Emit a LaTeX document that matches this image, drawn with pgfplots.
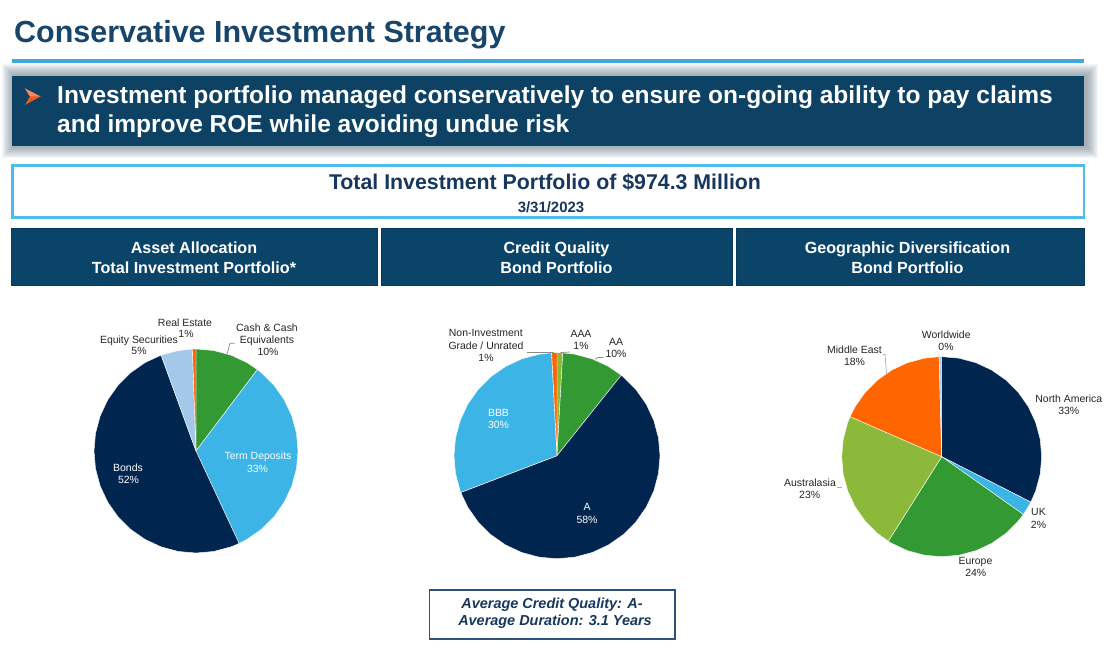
\documentclass[border=0pt]{standalone}
\usepackage{fontspec}
\setmainfont{Liberation Sans}
\usepackage{pgfplots}
\pgfplotsset{compat=1.18}
\usepgfplotslibrary{polar}

\definecolor{titleblue}{HTML}{17456B}
\definecolor{banner}{HTML}{0D4264}
\definecolor{hdr}{HTML}{0A4468}
\definecolor{rule}{HTML}{3FA9DD}
\definecolor{boxline}{HTML}{4DBCEA}
\definecolor{txtnavy}{HTML}{17375E}
\definecolor{noteline}{HTML}{2B5278}
\definecolor{shadow}{HTML}{4F6678}
\definecolor{pnavy}{HTML}{00264F}
\definecolor{pblue}{HTML}{3CB4E5}
\definecolor{pgreen}{HTML}{339933}
\definecolor{ppale}{HTML}{A4C8EA}
\definecolor{porange}{HTML}{FF6600}
\definecolor{plime}{HTML}{8DB93A}
\definecolor{lbl}{HTML}{262626}
\definecolor{lead}{HTML}{8C8C8C}
\definecolor{arrow}{HTML}{EE5A24}

% one pie = one hidden axis, 1 data unit = 1 px, centre at data (0,0)
\pgfplotsset{
  pie/.style={anchor=center, x=1bp, y=1bp, xmin=-110, xmax=110,
    ymin=-110, ymax=110, hide axis, clip=false},
  slice/.style={fill=#1, draw=white, line width=0.4bp, data cs=polar},
}
\tikzset{
  lab/.style={anchor=base, inner sep=0pt, text=lbl, font=\fontsize{10.5}{12}\selectfont},
  wlab/.style={lab, text=white},
  hd/.style={anchor=base, inner sep=0pt, text=white, font=\fontsize{16.2}{19}\selectfont\bfseries},
}

\begin{document}
\begin{tikzpicture}[x=1bp, y=1bp]
\path[use as bounding box, fill=white] (0,0) rectangle (1117,658);

% ---- Pie 1: asset allocation (clockwise from 12 o'clock)
% Cash 10%, Term Deposits 33%, Bonds 52%, Equity 5%, Real Estate 1%
\begin{axis}[pie, at={(196,207)}]
\addplot[slice=pgreen] coordinates {(0,0) (90,102) (80,102) (70,102) (60,102) (53,102)} -- cycle;
\addplot[slice=pblue] coordinates {(0,0) (53,102) (50,102) (40,102) (30,102) (20,102) (10,102)
  (0,102) (-10,102) (-20,102) (-30,102) (-40,102) (-50,102) (-60,102) (-65,102)} -- cycle;
\addplot[slice=pnavy] coordinates {(0,0) (-65,102) (-70,102) (-80,102) (-90,102) (-100,102)
  (-110,102) (-120,102) (-130,102) (-140,102) (-150,102) (-160,102) (-170,102) (-180,102)
  (-190,102) (-200,102) (-210,102) (-220,102) (-230,102) (-240,102) (-250,102)} -- cycle;
\addplot[slice=ppale] coordinates {(0,0) (-250,102) (-260,102) (-268,102)} -- cycle;
\addplot[slice=porange] coordinates {(0,0) (-268,102) (-270,102)} -- cycle;
\end{axis}

% ---- Pie 2: credit quality
% AAA 1%, AA 10%, A 58%, BBB 30%, Non-Investment Grade 1%
\begin{axis}[pie, at={(557,202.3)}]
\addplot[slice=plime] coordinates {(0,0) (90,103) (86.8,103)} -- cycle;
\addplot[slice=pgreen] coordinates {(0,0) (86.8,103) (80,103) (70,103) (60,103) (51.4,103)} -- cycle;
\addplot[slice=pnavy] coordinates {(0,0) (51.4,103) (50,103) (40,103) (30,103) (20,103) (10,103)
  (0,103) (-10,103) (-20,103) (-30,103) (-40,103) (-50,103) (-60,103) (-70,103) (-80,103)
  (-90,103) (-100,103) (-110,103) (-120,103) (-130,103) (-140,103) (-150,103) (-159.1,103)} -- cycle;
\addplot[slice=pblue] coordinates {(0,0) (-159.1,103) (-160,103) (-170,103) (-180,103) (-190,103)
  (-200,103) (-210,103) (-220,103) (-230,103) (-240,103) (-250,103) (-260,103) (-267,103)} -- cycle;
\addplot[slice=porange] coordinates {(0,0) (-267,103) (-270,103)} -- cycle;
\end{axis}

% ---- Pie 3: geographic diversification
% North America 33%, UK 2%, Europe 24%, Australasia 23%, Middle East 18%, Worldwide 0%
\begin{axis}[pie, at={(941.7,201.3)}]
\addplot[slice=pnavy] coordinates {(0,0) (90,100) (80,100) (70,100) (60,100) (50,100) (40,100)
  (30,100) (20,100) (10,100) (0,100) (-10,100) (-20,100) (-27,100)} -- cycle;
\addplot[slice=pblue] coordinates {(0,0) (-27,100) (-30,100) (-35.3,100)} -- cycle;
\addplot[slice=pgreen] coordinates {(0,0) (-35.3,100) (-40,100) (-50,100) (-60,100) (-70,100)
  (-80,100) (-90,100) (-100,100) (-110,100) (-120,100) (-122.3,100)} -- cycle;
\addplot[slice=plime] coordinates {(0,0) (-122.3,100) (-130,100) (-140,100) (-150,100) (-160,100)
  (-170,100) (-180,100) (-190,100) (-200,100) (-203.6,100)} -- cycle;
\addplot[slice=porange] coordinates {(0,0) (-203.6,100) (-210,100) (-220,100) (-230,100) (-240,100)
  (-250,100) (-260,100) (-268.5,100)} -- cycle;
\addplot[slice=ppale] coordinates {(0,0) (-268.5,100) (-270,100)} -- cycle;
\end{axis}

% everything else in slide pixel coordinates (y downwards)
\begin{scope}[y=-1bp, shift={(0,-658)}]
% title and rule
\node[anchor=base west, inner sep=0pt, text=titleblue,
  font=\fontsize{30.6}{36}\selectfont\bfseries] at (14,43) {Conservative Investment Strategy};

% banner with soft shadow
\foreach \d in {1,...,12}
  \fill[shadow, opacity=0.055] ({11.7-\d+2},{76-\d}) rectangle ({1084+\d+2},{146+\d});
\fill[rule] (11.7,59) rectangle (1084,62.7);
\fill[banner] (11.7,76) rectangle (1084,146);
\fill[arrow] (25,88.5) -- (40.5,96.5) -- (25,105) -- (30,96.5) -- cycle;
\fill[arrow!70!white] (25,88.5) -- (40.5,96.5) -- (30,96.5) -- cycle;
\node[anchor=base west, inner sep=0pt, text=white, font=\fontsize{24.6}{29}\selectfont\bfseries]
  at (57,103.5) {Investment portfolio managed conservatively to ensure on-going ability to pay claims};
\node[anchor=base west, inner sep=0pt, text=white, font=\fontsize{24.6}{29}\selectfont\bfseries]
  at (57,133) {and improve ROE while avoiding undue risk};

% total portfolio box
\draw[boxline, line width=2.8bp, fill=white] (12.5,165.5) rectangle (1084,217.8);
\node[anchor=base, inner sep=0pt, text=txtnavy, font=\fontsize{21.4}{25}\selectfont\bfseries]
  at (545,189.5) {Total Investment Portfolio of \$974.3 Million};
\node[anchor=base, inner sep=0pt, text=txtnavy, font=\fontsize{15}{17}\selectfont\bfseries]
  at (551,212.3) {3/31/2023};

% section headers
\filldraw[fill=hdr, draw=hdr!85!black, line width=0.8bp] (11.5,228.5) rectangle (377,285);
\filldraw[fill=hdr, draw=hdr!85!black, line width=0.8bp] (381.5,228.5) rectangle (732,285);
\filldraw[fill=hdr, draw=hdr!85!black, line width=0.8bp] (736,228.5) rectangle (1084,285);
\node[hd] at (194,253.3) {Asset Allocation};
\node[hd] at (194,273.3) {Total Investment Portfolio*};
\node[hd] at (556.5,253.3) {Credit Quality};
\node[hd] at (556.5,273.3) {Bond Portfolio};
\node[hd] at (907.5,253.3) {Geographic Diversification};
\node[hd] at (907.5,273.3) {Bond Portfolio};

% pie 1 labels
\node[lab] at (185,327) {Real Estate};
\node[lab] at (186,337.3) {1\%};
\node[lab] at (139,343.3) {Equity Securities};
\node[lab] at (139,355) {5\%};
\node[lab] at (267,331.7) {Cash \& Cash};
\node[lab] at (267,343.3) {Equivalents};
\node[lab] at (268,355.3) {10\%};
\draw[lead, line width=0.7bp] (226.7,355) -- (230,343.3) -- (234.5,343.3);
\node[wlab] at (258,460) {Term Deposits};
\node[wlab] at (257.5,472.3) {33\%};
\node[wlab] at (128,471.7) {Bonds};
\node[wlab] at (128.5,484) {52\%};

% pie 2 labels
\node[lab] at (485.8,336.7) {Non-Investment};
\node[lab] at (486,349.3) {Grade / Unrated};
\node[lab] at (486,361.7) {1\%};
\draw[lead, line width=0.7bp] (526.7,352.3) -- (553.5,352.3);
\node[lab] at (581,337.3) {AAA};
\node[lab] at (581,349.3) {1\%};
\draw[lead, line width=0.7bp] (560.5,352.6) -- (570,352);
\node[lab] at (616,345.3) {AA};
\node[lab] at (616,357.3) {10\%};
\draw[lead, line width=0.7bp] (595,359.2) -- (597.7,357.6) -- (603.3,357.6);
\node[wlab] at (498.5,416.7) {BBB};
\node[wlab] at (498.5,429) {30\%};
\node[wlab] at (587,511) {A};
\node[wlab] at (587,523.3) {58\%};

% bottom note
\draw[noteline, line width=1.4bp] (429.5,590) rectangle (675,639);
\node[anchor=base, inner sep=0pt, text=txtnavy, font=\fontsize{14.5}{17}\selectfont\bfseries\itshape]
  at (552,608.3) {Average Credit Quality: A-};
\node[anchor=base, inner sep=0pt, text=txtnavy, font=\fontsize{14.5}{17}\selectfont\bfseries\itshape]
  at (555,625.7) {Average Duration: 3.1 Years};

% pie 3 labels
\node[lab] at (946.3,338.7) {Worldwide};
\node[lab] at (946,350.7) {0\%};
\node[lab] at (854.5,354) {Middle East};
\node[lab] at (854.5,365.7) {18\%};
\draw[lead!70!white, line width=0.7bp] (883,354.5) -- (885,354.5) -- (886.5,373.5);
\node[lab] at (1068.8,402.3) {North America};
\node[lab] at (1068.8,414.3) {33\%};
\node[lab] at (1038.5,516) {UK};
\node[lab] at (1038.5,529) {2\%};
\node[lab] at (975.5,565) {Europe};
\node[lab] at (975.8,576.7) {24\%};
\node[lab] at (810,486.7) {Australasia};
\node[lab] at (809.7,498.3) {23\%};
\draw[lead!70!white, line width=0.7bp] (836.5,487.7) -- (842,487.7);
\end{scope}
\end{tikzpicture}
\end{document}
